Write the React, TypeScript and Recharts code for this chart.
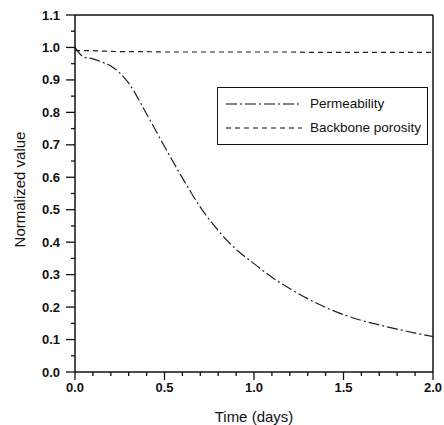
import React from 'react';
import { LineChart, Line, XAxis, YAxis, ReferenceLine } from 'recharts';

const times = [0, 0.05, 0.1, 0.15, 0.2, 0.3, 0.4, 0.5, 0.6, 0.7, 0.8, 0.9, 1.0, 1.1, 1.2, 1.3, 1.4, 1.5, 1.6, 1.7, 1.8, 1.9, 2.0];
const permeability = [1.0, 0.97, 0.965, 0.955, 0.943, 0.89, 0.795, 0.695, 0.598, 0.508, 0.436, 0.378, 0.334, 0.292, 0.257, 0.226, 0.199, 0.177, 0.159, 0.145, 0.132, 0.12, 0.109];
const porosity = [0.99, 0.99, 0.99, 0.989, 0.988, 0.987, 0.987, 0.986, 0.986, 0.986, 0.986, 0.986, 0.986, 0.986, 0.986, 0.985, 0.985, 0.985, 0.985, 0.985, 0.985, 0.985, 0.985];

const xTicks = [0, 0.1, 0.2, 0.3, 0.4, 0.5, 0.6, 0.7, 0.8, 0.9, 1.0, 1.1, 1.2, 1.3, 1.4, 1.5, 1.6, 1.7, 1.8, 1.9, 2.0];
const yTicks = [0, 0.05, 0.1, 0.15, 0.2, 0.25, 0.3, 0.35, 0.4, 0.45, 0.5, 0.55, 0.6, 0.65, 0.7, 0.75, 0.8, 0.85, 0.9, 0.95, 1.0, 1.05, 1.1];

const data = times.map((t, i) => ({ t, perm: permeability[i], poro: porosity[i] }));

const INK = '#111';
const FONT = '"Liberation Sans", Arial, sans-serif';
const PERM_DASH = '11 3 2 3';
const PORO_DASH = '5 4';

const XTick = (props: any) => {
    const { x, y, payload } = props;
    const major = Math.round(payload.value * 10) % 5 === 0;
    return (
        <g>
            <line x1={x} y1={y} x2={x} y2={y + (major ? 8 : 4)} stroke={INK} strokeWidth={1.3} />
            {major && (
                <text x={x} y={y + 15} textAnchor="middle" dominantBaseline="central" fontSize={13} fontWeight="bold" fontFamily={FONT} fill={INK}>
                    {payload.value.toFixed(1)}
                </text>
            )}
        </g>
    );
};

const YTick = (props: any) => {
    const { x, y, payload } = props;
    const major = Math.round(payload.value * 100) % 10 === 0;
    return (
        <g>
            <line x1={x} y1={y} x2={x - (major ? 9 : 4)} y2={y} stroke={INK} strokeWidth={1.3} />
            {major && (
                <text x={x - 15} y={y} textAnchor="end" dominantBaseline="central" fontSize={13} fontWeight="bold" fontFamily={FONT} fill={INK}>
                    {payload.value.toFixed(1)}
                </text>
            )}
        </g>
    );
};

const LegendBox = () => (
    <div
        style={{
            position: 'absolute',
            left: 217,
            top: 87,
            width: 211,
            height: 58,
            border: `1.5px solid ${INK}`,
            boxSizing: 'border-box',
            fontFamily: FONT,
            fontSize: 13.5,
            color: INK,
        }}
    >
        {[
            { name: 'Permeability', dash: PERM_DASH, top: 16 },
            { name: 'Backbone porosity', dash: PORO_DASH, top: 40 },
        ].map((item) => (
            <div key={item.name} style={{ position: 'absolute', left: 0, top: item.top - 9, height: 18, width: '100%' }}>
                <svg width={90} height={18} style={{ position: 'absolute', left: 6, top: 0 }}>
                    <line x1={2} y1={9} x2={78} y2={9} stroke={INK} strokeWidth={1.2} strokeDasharray={item.dash} />
                </svg>
                <span style={{ position: 'absolute', left: 92, top: 0, lineHeight: '18px', whiteSpace: 'nowrap' }}>{item.name}</span>
            </div>
        ))}
    </div>
);

export default function App() {
    return (
        <div style={{ position: 'absolute', left: 0, top: 0, width: 444, height: 425, background: '#fff' }}>
            <LineChart width={444} height={425} data={data} margin={{ top: 15, right: 11, bottom: 0, left: 0 }}>
                <XAxis
                    dataKey="t"
                    type="number"
                    domain={[0, 2]}
                    ticks={xTicks}
                    interval={0}
                    height={53}
                    tickSize={0}
                    tickMargin={0}
                    tickLine={false}
                    tick={<XTick />}
                    axisLine={{ stroke: INK, strokeWidth: 1.5 }}
                    label={{
                        content: (p: any) => (
                            <text
                                x={p.viewBox.x + p.viewBox.width / 2}
                                y={p.viewBox.y + 44}
                                textAnchor="middle"
                                dominantBaseline="central"
                                fontSize={15}
                                fontFamily={FONT}
                                fill={INK}
                            >
                                Time (days)
                            </text>
                        ),
                    }}
                />
                <YAxis
                    type="number"
                    domain={[0, 1.1]}
                    ticks={yTicks}
                    interval={0}
                    width={75}
                    tickSize={0}
                    tickMargin={0}
                    tickLine={false}
                    tick={<YTick />}
                    axisLine={{ stroke: INK, strokeWidth: 1.5 }}
                    label={{
                        content: (p: any) => {
                            const cx = p.viewBox.x + 19;
                            const cy = p.viewBox.y + p.viewBox.height / 2 - 4;
                            return (
                                <text
                                    x={cx}
                                    y={cy}
                                    transform={`rotate(-90 ${cx} ${cy})`}
                                    textAnchor="middle"
                                    dominantBaseline="central"
                                    fontSize={15}
                                    fontFamily={FONT}
                                    fill={INK}
                                >
                                    Normalized value
                                </text>
                            );
                        },
                    }}
                />
                <ReferenceLine y={1.1} stroke={INK} strokeWidth={1.5} />
                <ReferenceLine x={2} stroke={INK} strokeWidth={1.5} />
                <Line
                    type="monotone"
                    dataKey="perm"
                    stroke="#222"
                    strokeWidth={1.2}
                    strokeDasharray={PERM_DASH}
                    dot={false}
                    isAnimationActive={false}
                />
                <Line
                    type="monotone"
                    dataKey="poro"
                    stroke="#222"
                    strokeWidth={1.2}
                    strokeDasharray={PORO_DASH}
                    dot={false}
                    isAnimationActive={false}
                />
            </LineChart>
            <LegendBox />
        </div>
    );
}
